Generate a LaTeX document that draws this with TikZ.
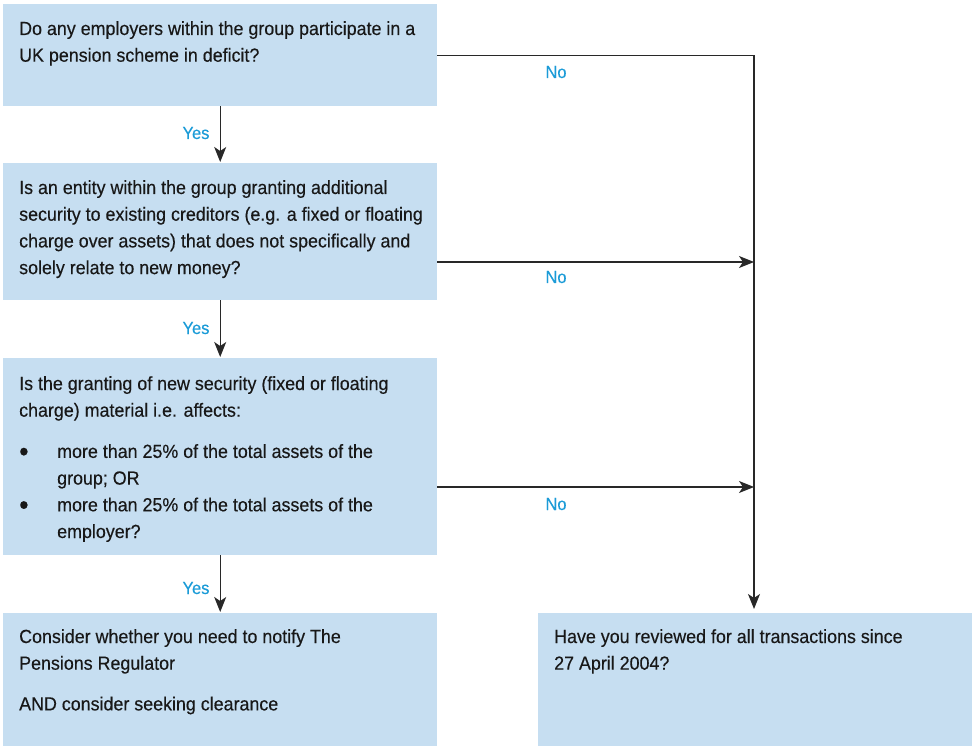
\documentclass[tikz,border=0pt]{standalone}
\usepackage{fontspec}
\setmainfont{Liberation Sans}[FakeStretch=0.94,FakeBold=0.3]
\usetikzlibrary{arrows.meta}
\definecolor{boxblue}{RGB}{198,222,241}
\definecolor{lblblue}{RGB}{27,155,215}
\definecolor{txtgray}{RGB}{24,24,24}
\definecolor{linegray}{RGB}{40,40,40}
\newcommand{\bigbul}{\hbox to 38pt{\raisebox{-3.2pt}{\scalebox{1.5}{\textbullet}}\hfil}}
\begin{document}
\begin{tikzpicture}[x=1pt,y=-1pt,
  box/.style={fill=boxblue, draw=none, inner sep=0pt, minimum width=434pt, anchor=north west},
  txt/.style={anchor=base west, inner sep=0pt, text=txtgray, font=\fontsize{19}{26.7}\selectfont},
  lbl/.style={anchor=base, inner sep=0pt, text=lblblue, font=\fontsize{17.5}{21}\selectfont},
  conn/.style={draw=linegray, line width=1.3pt},
  arr/.style={conn, -{Stealth[length=15pt,width=12pt,inset=4pt]}}]
\useasboundingbox (0,0) rectangle (972,746);

% boxes
\node[box, minimum height=102pt] (b1) at (3,4) {};
\node[box, minimum height=137pt] (b2) at (3,163) {};
\node[box, minimum height=197pt] (b3) at (3,358) {};
\node[box, minimum height=133pt] (b4) at (3,613) {};
\node[box, minimum height=133pt] (b5) at (538,613) {};

% texts
\node[txt] (t1) at (19,35) {\vtop{\hbox{Do any employers within the group participate in a}\hbox{UK pension scheme in deficit?}}};
\node[txt] (t2) at (19,194) {\vtop{\hbox{Is an entity within the group granting additional}\hbox{security to existing creditors (e.g. a fixed or floating}\hbox{charge over assets) that does not specifically and}\hbox{solely relate to new money?}}};
\node[txt] (t3) at (19,390) {\vtop{\hbox{Is the granting of new security (fixed or floating}\hbox{charge) material i.e. affects:}\vskip 14.5pt
  \hbox{\bigbul more than 25\% of the total assets of the}
  \hbox{\hbox to 38pt{\hfil}group; OR}
  \hbox{\bigbul more than 25\% of the total assets of the}
  \hbox{\hbox to 38pt{\hfil}employer?}}};
\node[txt] (t4) at (19,643) {\vtop{\hbox{Consider whether you need to notify The}\hbox{Pensions Regulator}\vskip 14pt\hbox{AND consider seeking clearance}}};
\node[txt] (t5) at (554,643) {\vtop{\hbox{Have you reviewed for all transactions since}\hbox{27 April 2004?}}};

% connector corner points
\coordinate (c2) at (754,262);
\coordinate (c3) at (754,487);
\coordinate (c5) at (754,609);

% Yes connectors
\draw[arr, shorten >=1pt] (b1.south) -- (b2.north);
\draw[arr, shorten >=1pt] (b2.south) -- (b3.north);
\draw[arr, shorten >=1pt] (b3.south) -- (b4.north);

% No connectors
\draw[arr] (b1.east) -| (c5);
\draw[arr] (b2.east |- c2) -- (c2);
\draw[arr] (b3.east |- c3) -- (c3);

% labels
\node[lbl] (y1) at (196,139) {Yes};
\node[lbl] (y2) at (196,334) {Yes};
\node[lbl] (y3) at (196,594) {Yes};
\node[lbl] (n1) at (556,78) {No};
\node[lbl] (n2) at (556,283) {No};
\node[lbl] (n3) at (556,510) {No};
\end{tikzpicture}
\end{document}
